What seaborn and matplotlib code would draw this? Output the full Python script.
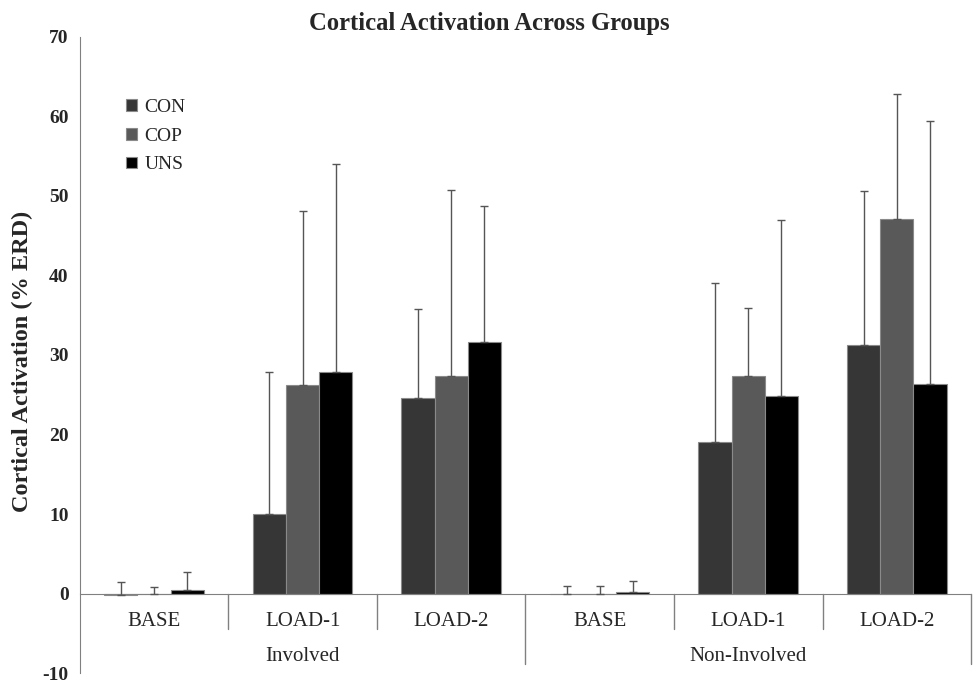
import matplotlib
matplotlib.use("Agg")
import matplotlib.pyplot as plt
import seaborn as sns
import pandas as pd
import numpy as np

# data
conditions = ["BASE", "LOAD-1", "LOAD-2", "BASE", "LOAD-1", "LOAD-2"]
sides = ["Involved", "Non-Involved"]
groups = ["CON", "COP", "UNS"]
con_mean = [-0.2, 10.0, 24.6, -0.1, 19.1, 31.3]
cop_mean = [-0.1, 26.2, 27.3, -0.1, 27.3, 47.1]
uns_mean = [0.5, 27.8, 31.6, 0.2, 24.8, 26.4]
con_sd = [1.6, 17.8, 11.2, 1.0, 19.9, 19.3]
cop_sd = [0.9, 21.9, 23.5, 1.1, 8.6, 15.7]
uns_sd = [2.2, 26.2, 17.1, 1.4, 22.2, 33.0]
colors = ["#363636", "#595959", "#000000"]

slots = [f"{s}|{c}" for s in sides for c in conditions[:3]]
means = [con_mean, cop_mean, uns_mean]
sds = [con_sd, cop_sd, uns_sd]
rows = []
for g, m, e in zip(groups, means, sds):
    for slot, v, s in zip(slots, m, e):
        rows.append({"slot": slot, "group": g, "value": v, "sd": s})
df = pd.DataFrame(rows)

sns.set_style("white")
plt.rcParams["font.family"] = ["Liberation Serif", "DejaVu Serif"]
plt.rcParams["axes.unicode_minus"] = False

fig, ax = plt.subplots(figsize=(9.73, 6.84), dpi=100)
fig.subplots_adjust(left=0.082, right=0.998, top=0.946, bottom=0.016)

sns.barplot(data=df, x="slot", y="value", hue="group", order=slots,
            hue_order=groups, palette=colors, width=0.67, errorbar=None,
            edgecolor="#8a8a8a", linewidth=0.8, saturation=1, ax=ax)

# upward-only error bars
for cont, g in zip(ax.containers, groups):
    sub = df[df["group"] == g].set_index("slot").loc[slots]
    xs = [p.get_x() + p.get_width() / 2 for p in cont.patches]
    ax.errorbar(xs, sub["value"].values,
                yerr=[np.zeros(len(slots)), sub["sd"].values],
                fmt="none", ecolor="#555555", elinewidth=1.0,
                capsize=3, capthick=1.0, zorder=3)

ax.set_xlim(-0.5, 5.5)
ax.set_ylim(-10, 70)
ax.set_yticks(range(-10, 71, 10))
ax.tick_params(axis="y", direction="out", length=5, width=1, color="#808080",
               labelsize=14, pad=3)
for lab in ax.get_yticklabels():
    lab.set_fontweight("bold")

for sp in ["top", "right"]:
    ax.spines[sp].set_visible(False)
ax.spines["left"].set_color("#808080")
ax.spines["bottom"].set_position(("data", 0))
ax.spines["bottom"].set_color("#808080")

ax.set_xticks(range(6))
ax.set_xticklabels(conditions, fontsize=15)
ax.tick_params(axis="x", length=0, pad=13)

# separators
for b in [0.5, 1.5, 3.5, 4.5]:
    ax.plot([b, b], [0, -4.5], color="#808080", lw=1, clip_on=False)
for b in [2.5, 5.5]:
    ax.plot([b, b], [0, -8.9], color="#808080", lw=1, clip_on=False)

ax.text(1, -7.9, sides[0], ha="center", va="center", fontsize=15)
ax.text(4, -7.9, sides[1], ha="center", va="center", fontsize=15)

ax.set_xlabel("")
ax.set_ylabel("Cortical Activation (% ERD)", fontsize=17.5, fontweight="bold")
ax.yaxis.set_label_coords(-0.052, 0.49)
fig.suptitle("Cortical Activation Across Groups", x=0.503, y=0.966,
             fontsize=17.7, fontweight="bold", va="center")

leg = ax.legend(loc="upper left", bbox_to_anchor=(0.032, 0.93), frameon=False,
                fontsize=14, handlelength=0.55, handleheight=0.55,
                labelspacing=0.6, handletextpad=0.4)
for h in leg.legend_handles:
    h.set_edgecolor("#8a8a8a")

fig.savefig("out.png", dpi=100)
